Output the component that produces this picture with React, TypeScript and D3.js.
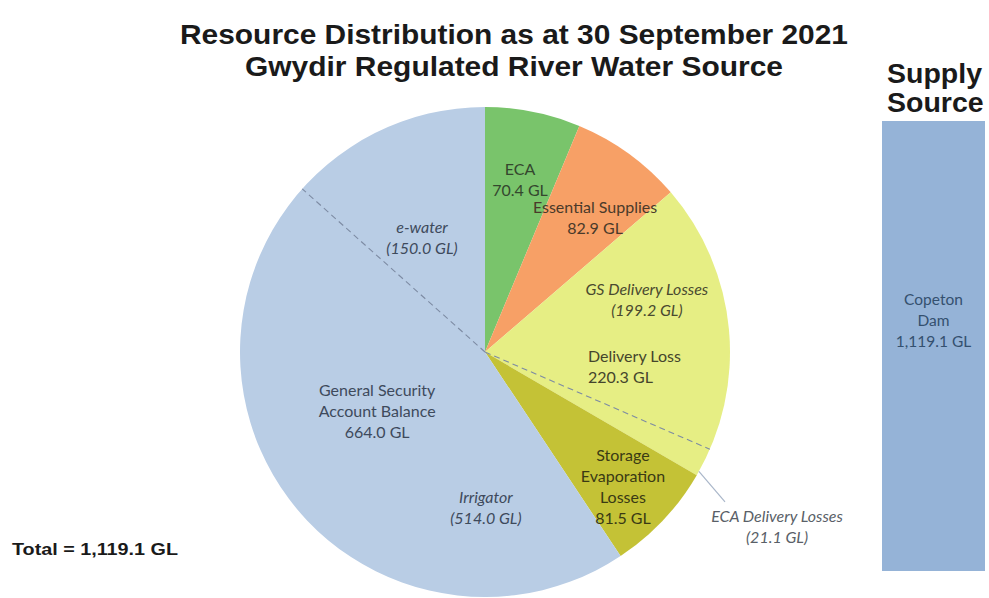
import * as d3 from "d3";
import { useEffect, useRef } from "react";

// slices, clockwise from 12 o'clock
const categories = ["ECA", "Essential Supplies", "Delivery Loss", "Storage Evaporation Losses", "General Security Account Balance"];
const values = [70.4, 82.9, 220.3, 81.5, 664.0];
const colours = ["#79c46b", "#f7a066", "#e6ee84", "#c4c236", "#b9cde5"];

// dashed sub-splits inside two slices
const deliverySplitNames = ["GS Delivery Losses", "ECA Delivery Losses"];
const deliverySplit = [199.2, 21.1];
const gsSplitNames = ["Irrigator", "e-water"];
const gsSplit = [514.0, 150.0];

const supplyName = ["Copeton", "Dam"];
const supplyValue = 1119.1;

const fmt = (v: number) => d3.format(",.1f")(v) + " GL";

const App = () => {
  const svgRef = useRef<SVGSVGElement | null>(null);
  const w = 989;
  const h = 598;
  const cx = 485;
  const cy = 352;
  const r = 245;

  useEffect(() => {
    if (!svgRef.current) return;
    const svg = d3.select(svgRef.current);
    svg.selectAll("*").remove();

    const total = d3.sum(values);
    const angle = d3.scaleLinear().domain([0, total]).range([0, 2 * Math.PI]);
    const pie = d3.pie<number>().sort(null).value(d => d)(values);
    const arc = d3.arc<d3.PieArcDatum<number>>().innerRadius(0).outerRadius(r);

    const g = svg.append("g").attr("transform", `translate(${cx},${cy})`);
    g.selectAll("path")
      .data(pie)
      .enter().append("path")
      .attr("d", arc)
      .attr("fill", (_, i) => colours[i]);

    const polar = (a: number, rad: number): [number, number] => [Math.sin(a) * rad, -Math.cos(a) * rad];

    // dashed dividers
    const deliveryStart = pie[2].startAngle;
    const gsStart = pie[4].startAngle;
    const deliveryCut = deliveryStart + angle(deliverySplit[0]);
    const gsCut = gsStart + angle(gsSplit[0]);
    [deliveryCut, gsCut].forEach(a => {
      const [x, y] = polar(a, r);
      g.append("line")
        .attr("x1", 0).attr("y1", 0).attr("x2", x).attr("y2", y)
        .attr("stroke", "#7d8ba3")
        .attr("stroke-width", 1.1)
        .attr("stroke-dasharray", "6,4");
    });

    // label layout: slice mid angle + nudge (deg), radius fraction
    const deg = Math.PI / 180;
    const mid = (a0: number, a1: number) => (a0 + a1) / 2;
    const labels = [
      { lines: [categories[0], fmt(values[0])], a: mid(pie[0].startAngle, pie[0].endAngle), nudge: 0.2, rf: 0.716, italic: false, anchor: "middle", fill: "#34472e" },
      { lines: [categories[1], fmt(values[1])], a: mid(pie[1].startAngle, pie[1].endAngle), nudge: 3.4, rf: 0.708, italic: false, anchor: "middle", fill: "#4a3a2a" },
      { lines: [deliverySplitNames[0], `(${fmt(deliverySplit[0])})`], a: mid(deliveryStart, deliveryCut), nudge: -9.2, rf: 0.694, italic: true, anchor: "middle", fill: "#4a4a30" },
      { lines: [categories[2], fmt(values[2])], a: mid(pie[2].startAngle, pie[2].endAngle), nudge: 13.8, rf: 0.425, italic: false, anchor: "start", fill: "#45452c" },
      { lines: ["Storage", "Evaporation", "Losses", fmt(values[3])], a: mid(pie[3].startAngle, pie[3].endAngle), nudge: 1.1, rf: 0.788, italic: false, anchor: "middle", fill: "#3a3a14" },
      { lines: ["General Security", "Account Balance", fmt(values[4])], a: mid(pie[4].startAngle, pie[4].endAngle), nudge: -11.9, rf: 0.502, italic: false, anchor: "middle", fill: "#3e4a5c" },
      { lines: [gsSplitNames[0], `(${fmt(gsSplit[0])})`], a: mid(gsStart, gsCut), nudge: -49.4, rf: 0.637, italic: true, anchor: "middle", fill: "#3e4a5c" },
      { lines: [gsSplitNames[1], `(${fmt(gsSplit[1])})`], a: mid(gsCut, pie[4].endAngle), nudge: -4.7, rf: 0.533, italic: true, anchor: "middle", fill: "#3e4a5c" },
      { lines: [deliverySplitNames[1], `(${fmt(deliverySplit[1])})`], a: mid(deliveryCut, pie[2].endAngle), nudge: 4.1, rf: 1.389, italic: true, anchor: "middle", fill: "#5a5f68" },
    ];

    // leader for the outside label
    const ecaMid = mid(deliveryCut, pie[2].endAngle);
    const [lx1, ly1] = polar(ecaMid + 2.4 * deg, r * 1.0);
    const [lx2, ly2] = polar(ecaMid + 5.2 * deg, r * 1.155);
    g.append("line")
      .attr("x1", lx1).attr("y1", ly1).attr("x2", lx2).attr("y2", ly2)
      .attr("stroke", "#a9b6c9").attr("stroke-width", 1.2);

    const lh = 21;
    labels.forEach(l => {
      const [x, y] = polar(l.a + l.nudge * deg, r * l.rf);
      const t = g.append("text")
        .attr("text-anchor", l.anchor)
        .attr("font-family", "Lato, 'Open Sans', sans-serif")
        .attr("font-size", 16)
        .attr("font-style", l.italic ? "italic" : "normal")
        .attr("fill", l.fill);
      l.lines.forEach((s, i) => {
        t.append("tspan")
          .attr("x", x)
          .attr("y", y + (i - (l.lines.length - 1) / 2) * lh + 5.5)
          .text(s);
      });
    });

    // title
    const title = ["Resource Distribution as at 30 September 2021", "Gwydir Regulated River Water Source"];
    const titleLen = [668, 538];
    title.forEach((s, i) => {
      svg.append("text")
        .attr("x", 514)
        .attr("y", 44 + i * 32)
        .attr("text-anchor", "middle")
        .attr("font-family", "'Liberation Sans', Arial, sans-serif")
        .attr("font-weight", "bold")
        .attr("font-size", 28)
        .attr("fill", "#1a1a1a")
        .attr("textLength", titleLen[i])
        .attr("lengthAdjust", "spacingAndGlyphs")
        .text(s);
    });

    // supply source bar
    const y = d3.scaleLinear().domain([0, supplyValue]).range([571, 121]);
    const x = d3.scaleBand().domain(["Supply Source"]).range([882, 985]).padding(0);
    svg.append("rect")
      .attr("x", x("Supply Source")!)
      .attr("y", y(supplyValue))
      .attr("width", x.bandwidth())
      .attr("height", y(0) - y(supplyValue))
      .attr("fill", "#95b3d7");

    ["Supply", "Source"].forEach((s, i) => {
      svg.append("text")
        .attr("x", 887)
        .attr("y", 83 + i * 29)
        .attr("font-family", "'Liberation Sans', Arial, sans-serif")
        .attr("font-weight", "bold")
        .attr("font-size", 28.5)
        .attr("fill", "#1a1a1a")
        .text(s);
    });

    const bt = svg.append("text")
      .attr("text-anchor", "middle")
      .attr("font-family", "Lato, 'Open Sans', sans-serif")
      .attr("font-size", 15.5)
      .attr("fill", "#34506f");
    [...supplyName, fmt(supplyValue)].forEach((s, i) => {
      bt.append("tspan")
        .attr("x", x("Supply Source")! + x.bandwidth() / 2)
        .attr("y", 305 + i * 21)
        .text(s);
    });

    svg.append("text")
      .attr("x", 12)
      .attr("y", 555)
      .attr("font-family", "'Liberation Sans', Arial, sans-serif")
      .attr("font-weight", "bold")
      .attr("font-size", 16)
      .attr("fill", "#1a1a1a")
      .attr("textLength", 166)
      .attr("lengthAdjust", "spacingAndGlyphs")
      .text(`Total = ${fmt(total)}`);
  }, []);

  return (
    <svg ref={svgRef} width={w} height={h} style={{ position: "absolute", left: 0, top: 0, background: "#fff" }} />
  );
};

export default App;
